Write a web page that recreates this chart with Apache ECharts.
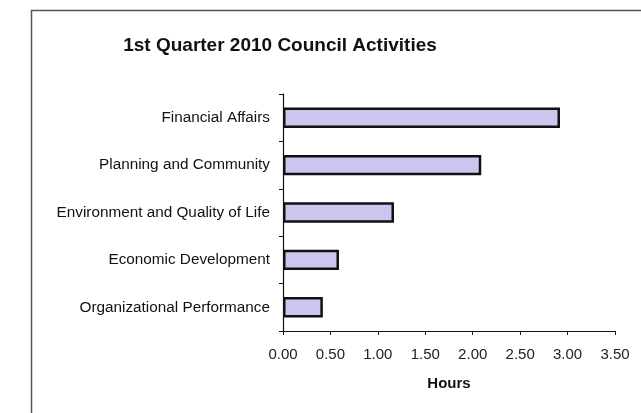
<!DOCTYPE html>
<html><head><meta charset="utf-8">
<script src="https://cdn.jsdelivr.net/npm/echarts@6/dist/echarts.min.js"></script>
<style>html,body{margin:0;padding:0;background:#fff}#c{width:641px;height:413px}</style>
</head><body><div id="c"></div>
<script>
var categories = ["Organizational Performance","Economic Development","Environment and Quality of Life","Planning and Community","Financial Affairs"];
var hours = [0.42, 0.59, 1.17, 2.09, 2.92];
var xTicks = [0, 0.5, 1, 1.5, 2, 2.5, 3, 3.5];

var chart = echarts.init(document.getElementById('c'));
chart.setOption({
  backgroundColor: '#fff',
  animation: false,
  title: {
    text: '1st Quarter 2010 Council Activities',
    left: 275, top: 31, textAlign: 'center',
    textStyle: {fontFamily: 'Liberation Sans, Arial', fontWeight: 'bold', fontSize: 19, color: '#111'}
  },
  graphic: [{
    type: 'rect', shape: {x: 31.5, y: 10.5, width: 700, height: 500},
    style: {fill: 'none', stroke: '#555', lineWidth: 1.5}, silent: true
  }],
  grid: {left: 283, right: 26, top: 94, bottom: 82},
  xAxis: {
    type: 'value', min: xTicks[0], max: xTicks[xTicks.length - 1], interval: 0.5,
    name: 'Hours', nameLocation: 'middle', nameGap: 45,
    nameTextStyle: {fontFamily: 'Liberation Sans, Arial', fontWeight: 'bold', fontSize: 15, color: '#111'},
    axisLine: {show: true, lineStyle: {color: '#111', width: 1.2}},
    axisTick: {show: true, length: 4, lineStyle: {color: '#111'}},
    splitLine: {show: false},
    axisLabel: {margin: 16, fontFamily: 'Liberation Sans, Arial', fontSize: 15, color: '#222',
      formatter: function (v) { return v.toFixed(2); }}
  },
  yAxis: {
    type: 'category', data: categories,
    axisLine: {show: true, lineStyle: {color: '#111', width: 1.2}},
    axisTick: {show: true, length: 4, lineStyle: {color: '#111'}},
    axisLabel: {margin: 13, fontFamily: 'Liberation Sans, Arial', fontSize: 15.3, color: '#111'}
  },
  series: [{
    type: 'bar', data: hours, barCategoryGap: '57%',
    itemStyle: {color: '#cdc4ef', borderColor: '#111', borderWidth: 2.5}
  }]
});
</script></body></html>
